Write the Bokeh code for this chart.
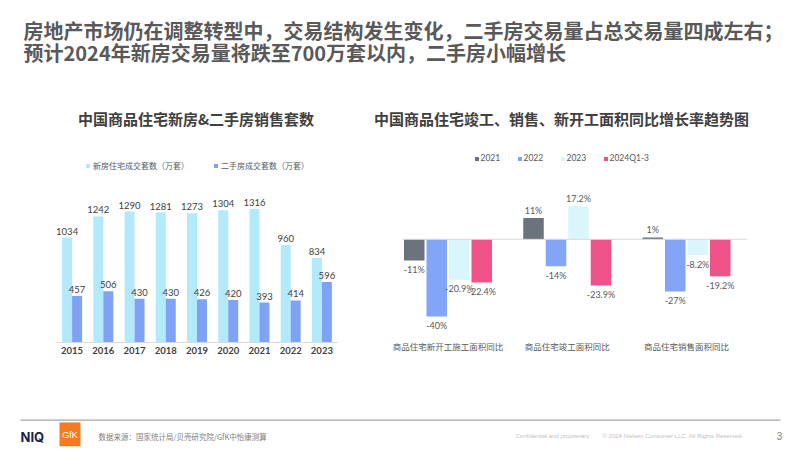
from bokeh.plotting import figure
from bokeh.models import (ColumnDataSource, Range1d, FactorRange, Legend, LegendItem,
                          Span, FixedTicker)
from bokeh.layouts import column, row
from bokeh.transform import dodge
from bokeh.core.properties import value
from bokeh.embed import file_html
from bokeh.resources import INLINE

# ---------------- data ----------------
title_line1 = "房地产市场仍在调整转型中，交易结构发生变化，二手房交易量占总交易量四成左右；"
title_line2 = "预计2024年新房交易量将跌至700万套以内，二手房小幅增长"
left_title = "中国商品住宅新房&二手房销售套数"
right_title = "中国商品住宅竣工、销售、新开工面积同比增长率趋势图"

years = ["2015", "2016", "2017", "2018", "2019", "2020", "2021", "2022", "2023"]
new_homes = [1034, 1242, 1290, 1281, 1273, 1304, 1316, 960, 834]
second_homes = [457, 506, 430, 430, 426, 420, 393, 414, 596]
left_series = ["新房住宅成交套数（万套）", "二手房成交套数（万套）"]

growth_cats = ["商品住宅新开工施工面积同比", "商品住宅竣工面积同比", "商品住宅销售面积同比"]
growth_series = ["2021", "2022", "2023", "2024Q1-3"]
g2021 = [-11, 11, 1]
g2022 = [-40, -14, -27]
g2023 = [-20.9, 17.2, -8.2]
g2024 = [-22.4, -23.9, -19.2]

source_note = "数据来源：国家统计局/贝壳研究院/GfK中怡康测算"
conf_note = "Confidential and proprietary"
copy_note = "© 2024 Nielsen Consumer LLC. All Rights Reserved."
page_no = "3"

CJK = "Noto Sans CJK SC"
NUM = "Lato"
W = 800


def blank(p):
    p.xgrid.visible = False
    p.ygrid.visible = False
    p.outline_line_color = None
    p.background_fill_color = "white"
    p.border_fill_color = "white"


# ---------------- top (titles) ----------------
top = figure(width=W, height=130, x_range=Range1d(0, W), y_range=Range1d(130, 0),
             x_axis_location=None, y_axis_location=None, toolbar_location=None,
             output_backend="svg", min_border=0)
blank(top)
top.text(x=[23], y=[30], text=[title_line1], text_font=value(CJK), text_font_style="bold",
         text_font_size="20px", text_color="#595959", text_baseline="middle", text_align="left")
top.text(x=[23], y=[52], text=[title_line2], text_font=value(CJK), text_font_style="bold",
         text_font_size="20px", text_color="#595959", text_baseline="middle", text_align="left")
top.text(x=[195.5], y=[118], text=[left_title], text_font=value(CJK), text_font_style="bold",
         text_font_size="15px", text_color="#404040", text_baseline="middle", text_align="center")
top.text(x=[561], y=[118], text=[right_title], text_font=value(CJK), text_font_style="bold",
         text_font_size="15px", text_color="#404040", text_baseline="middle", text_align="center")

# ---------------- left chart ----------------
lsrc = ColumnDataSource(dict(year=years, new=new_homes, sec=second_homes,
                             new_lbl=[str(v) for v in new_homes],
                             sec_lbl=[str(v) for v in second_homes]))
left = figure(width=370, height=243, x_range=FactorRange(*years), y_range=Range1d(0, 1892),
              y_axis_location=None, toolbar_location=None, output_backend="svg",
              min_border_left=56, min_border_right=33, min_border_top=20, min_border_bottom=31)
blank(left)
r_new = left.vbar(x=dodge("year", -0.16, range=left.x_range), top="new", width=0.32,
                  source=lsrc, fill_color="#b3eafb", line_color=None)
r_sec = left.vbar(x=dodge("year", 0.16, range=left.x_range), top="sec", width=0.32,
                  source=lsrc, fill_color="#7fa2f5", line_color=None)
left.text(x=dodge("year", -0.16, range=left.x_range), y="new", text="new_lbl", source=lsrc,
          text_font=value(NUM), text_font_size="9.5px", text_color="#404040",
          text_align="center", text_baseline="bottom", y_offset=-3)
left.text(x=dodge("year", 0.16, range=left.x_range), y="sec", text="sec_lbl", source=lsrc,
          text_font=value(NUM), text_font_size="9.5px", text_color="#404040",
          text_align="center", text_baseline="bottom", y_offset=-3)
ax = left.xaxis[0]
ax.axis_line_color = "#d9d9d9"
ax.major_tick_line_color = None
ax.minor_tick_line_color = None
ax.major_tick_out = 0
ax.major_label_standoff = 4
ax.major_label_text_font = NUM
ax.major_label_text_font_size = "9.5px"
ax.major_label_text_font_style = "bold"
ax.major_label_text_color = "#404040"
leg_l = Legend(items=[LegendItem(label=left_series[0], renderers=[r_new]),
                      LegendItem(label=left_series[1], renderers=[r_sec])],
               orientation="horizontal", location=(29, 171), glyph_width=5, glyph_height=5,
               label_standoff=3, spacing=24, padding=0, margin=0, label_height=5,
               border_line_color=None, background_fill_alpha=0,
               label_text_font=CJK, label_text_font_size="8px", label_text_color="#595959")
left.add_layout(leg_l)

# ---------------- right chart ----------------
gx = list(range(len(growth_cats)))
rsrc = ColumnDataSource(dict(x=gx, s0=g2021, s1=g2022, s2=g2023, s3=g2024))
right = figure(width=W - 370, height=235, x_range=Range1d(-0.3816, 2.5115),
               y_range=Range1d(-49.33, 46.03), y_axis_location=None, toolbar_location=None,
               output_backend="svg", min_border_left=32, min_border_right=W - 747,
               min_border_top=20, min_border_bottom=30)
blank(right)
right.add_layout(Span(location=0, dimension="width", line_color="#d9d9d9", line_width=1))
colors = ["#6b737d", "#82a5f7", "#d9f6fd", "#ee5289"]
pitch = 0.1887
offsets = [(-1.5 + i) * pitch for i in range(4)]
rends = []
for i, (key, vals) in enumerate(zip(["s0", "s1", "s2", "s3"], [g2021, g2022, g2023, g2024])):
    r = right.vbar(x=dodge("x", offsets[i]), top=key, bottom=0, width=0.172, source=rsrc,
                   fill_color=colors[i], line_color=None)
    rends.append(r)
    lab = ColumnDataSource(dict(
        x=[gx[j] + offsets[i] for j in range(len(vals))],
        y=vals,
        t=[f"{v:g}%" for v in vals],
        off=[-8 if v >= 0 else 9 for v in vals]))
    right.text(x="x", y="y", text="t", source=lab, text_font=value(NUM), text_font_size="9px",
               text_color="#595959", text_align="center", text_baseline="middle",
               y_offset="off")
rax = right.xaxis[0]
rax.ticker = FixedTicker(ticks=gx)
rax.major_label_overrides = {g: c for g, c in zip(gx, growth_cats)}
rax.axis_line_color = None
rax.major_tick_line_color = None
rax.minor_tick_line_color = None
rax.major_tick_out = 0
rax.major_label_standoff = 5
rax.major_label_text_font = CJK
rax.major_label_text_font_size = "8.5px"
rax.major_label_text_color = "#595959"
leg_r = Legend(items=[LegendItem(label=s, renderers=[r]) for s, r in zip(growth_series, rends)],
               orientation="horizontal", location=(71.5, 171), glyph_width=5, glyph_height=5,
               label_standoff=2, spacing=16, padding=0, margin=0, label_height=5,
               border_line_color=None, background_fill_alpha=0,
               label_text_font=NUM, label_text_font_size="8.5px", label_text_color="#595959")
right.add_layout(leg_r)

# ---------------- footer ----------------
foot = figure(width=W, height=76, x_range=Range1d(0, W), y_range=Range1d(449, 373),
              x_axis_location=None, y_axis_location=None, toolbar_location=None,
              output_backend="svg", min_border=0)
blank(foot)
foot.segment(x0=[20], y0=[419.7], x1=[780], y1=[419.7], line_color="#a6a6a6", line_width=1.2)
foot.text(x=[20], y=[436], text=["NIQ"], text_font=value("Inter"), text_font_style="bold",
          text_font_size="13px", text_color="#1b1f4b", text_baseline="middle", text_align="left")
foot.quad(left=[59], right=[80], top=[422], bottom=[445.7], fill_color="#f47b20", line_color=None)
foot.text(x=[69.5], y=[434], text=["GfK"], text_font=value("Liberation Sans"),
          text_font_size="9px", text_color="white", text_baseline="middle", text_align="center")
foot.text(x=[98], y=[435.5], text=[source_note], text_font=value(CJK), text_font_size="7.5px",
          text_color="#7f7f7f", text_baseline="middle", text_align="left")
foot.text(x=[515], y=[435.5], text=[conf_note], text_font=value("Liberation Sans"),
          text_font_size="6px", text_color="#bfbfbf", text_baseline="middle", text_align="left")
foot.text(x=[602], y=[435.5], text=[copy_note], text_font=value("Liberation Sans"),
          text_font_size="6px", text_color="#bfbfbf", text_baseline="middle", text_align="left")
foot.text(x=[779], y=[435.5], text=[page_no], text_font=value("Liberation Sans"),
          text_font_size="10px", text_color="#7f7f7f", text_baseline="middle", text_align="center")

layout = column(top, row(left, right, spacing=0), foot, spacing=0)
open("out.html", "w").write(file_html(layout, INLINE))
